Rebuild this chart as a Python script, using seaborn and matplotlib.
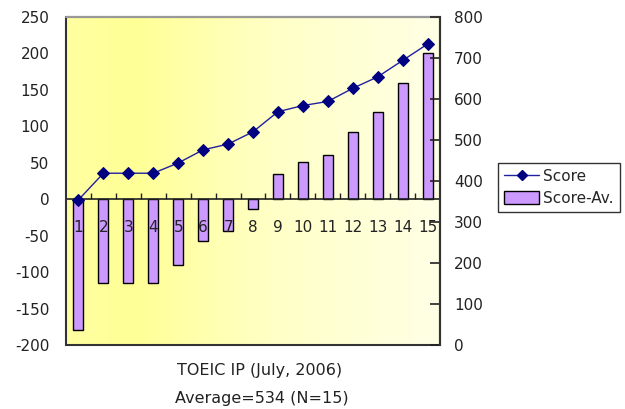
import numpy as np
import pandas as pd
import matplotlib
matplotlib.use("Agg")
import matplotlib.pyplot as plt
from matplotlib.colors import LinearSegmentedColormap
from matplotlib.lines import Line2D
from matplotlib.patches import Patch, Rectangle
import seaborn as sns

# Data
students = [str(i) for i in range(1, 16)]
score = [354, 419, 419, 419, 444, 476, 490, 520, 569, 584, 594, 626, 654, 694, 734]
score_minus_av = [-180, -115, -115, -115, -90, -58, -43, -13, 35, 51, 61, 92, 120, 160, 201]
left_ticks = [-200, -150, -100, -50, 0, 50, 100, 150, 200, 250]
right_ticks = [0, 100, 200, 300, 400, 500, 600, 700, 800]
title_lines = ["TOEIC IP (July, 2006)", "Average=534 (N=15)"]

df = pd.DataFrame({"student": students, "score": score, "diff": score_minus_av})

sns.set_style("white")
plt.rcParams["font.family"] = ["DejaVu Sans"]
plt.rcParams["font.size"] = 11

fig = plt.figure(figsize=(6.25, 4.09), dpi=100)
ax = fig.add_axes([66 / 625, 1 - 345 / 409, 374 / 625, 328 / 409])

# Horizontal yellow gradient behind the plot area
grad = LinearSegmentedColormap.from_list(
    "bg", [(0.0, "#FFFFA2"), (0.18, "#FFFF96"), (0.55, "#FFFFC6"), (1.0, "#FFFFE6")]
)
ax.imshow(np.linspace(0, 1, 256)[None, :], cmap=grad, aspect="auto",
          extent=[0, 1, 0, 1], transform=ax.transAxes, zorder=0)

sns.barplot(data=df, x="student", y="diff", order=students, ax=ax,
            color="#CC99FF", width=0.4, edgecolor="black", linewidth=1,
            saturation=1, zorder=2)
for p in ax.patches:
    p.set_facecolor("#CC99FF")

ax.set_xlim(-0.5, len(students) - 0.5)
ax.set_ylim(-200, 250)
ax.set_yticks(left_ticks)
ax.set_yticklabels([str(t) for t in left_ticks])
ax.set_xlabel("")
ax.set_ylabel("")
ax.tick_params(axis="y", length=0, pad=12, labelsize=11, colors="#222222")

# Category axis sits on the zero line with boundary ticks pointing up;
# its labels are drawn over the bars
ax.spines["bottom"].set_position(("data", 0))
ax.spines["bottom"].set_color("#222222")
ax.spines["bottom"].set_linewidth(1.2)
ax.spines["bottom"].set_zorder(3)
ax.xaxis.set_zorder(5)
ax.set_xticks(range(len(students)))
ax.set_xticklabels(students)
ax.set_xticks(np.arange(0.5, len(students) - 0.5, 1), minor=True)
ax.tick_params(axis="x", which="major", bottom=True, length=0, pad=15,
               labelsize=11, colors="#222222")
ax.tick_params(axis="x", which="minor", bottom=True, direction="in", length=4,
               width=1, color="#222222")
for s in ["top", "left", "right"]:
    ax.spines[s].set_visible(False)

# Plot-area frame
ax.add_patch(Rectangle((0, 0), 1, 1, transform=ax.transAxes, fill=False,
                       edgecolor="#333333", linewidth=1.5, zorder=4, clip_on=False))
ax.plot([0, 1], [1, 1], transform=ax.transAxes, color="#999999", lw=1.5,
        zorder=5, clip_on=False)

# Score line on secondary axis
ax2 = ax.twinx()
sns.lineplot(x=np.arange(len(students)), y=df["score"], ax=ax2, color="#2020A0",
             linewidth=1, marker="D", markersize=6, markerfacecolor="#000080",
             markeredgecolor="#000080", zorder=6)
ax2.set_ylim(0, 800)
ax2.set_yticks(right_ticks)
ax2.set_yticklabels([str(t) for t in right_ticks])
ax2.set_ylabel("")
ax2.tick_params(axis="y", direction="in", length=7, width=1.2, pad=10,
                labelsize=11, colors="#222222")
for s in ["top", "left", "bottom"]:
    ax2.spines[s].set_visible(False)
ax2.spines["right"].set_color("#333333")
ax2.spines["right"].set_linewidth(1.5)

# Legend
handles = [
    Line2D([0], [0], color="#2020A0", lw=1, marker="D", markersize=5,
           markerfacecolor="#000080", markeredgecolor="#000080"),
    Patch(facecolor="#CC99FF", edgecolor="black", linewidth=1),
]
leg = fig.legend(handles, ["Score", "Score-Av."], loc="upper left",
                 bbox_to_anchor=(498 / 625, 1 - 163 / 409), frameon=True,
                 fancybox=False, edgecolor="black", fontsize=11,
                 borderpad=0.4, labelspacing=0.45, handlelength=2.3,
                 handleheight=0.9, handletextpad=0.25, borderaxespad=0)
leg.get_frame().set_linewidth(1)

# Caption below the plot
fig.text(260 / 625, 1 - 371 / 409, title_lines[0], ha="center", va="center",
         fontsize=11.5, color="#222222")
fig.text(262 / 625, 1 - 398 / 409, title_lines[1], ha="center", va="center",
         fontsize=11.5, color="#222222")

fig.savefig("out.png", dpi=100, facecolor="white")
